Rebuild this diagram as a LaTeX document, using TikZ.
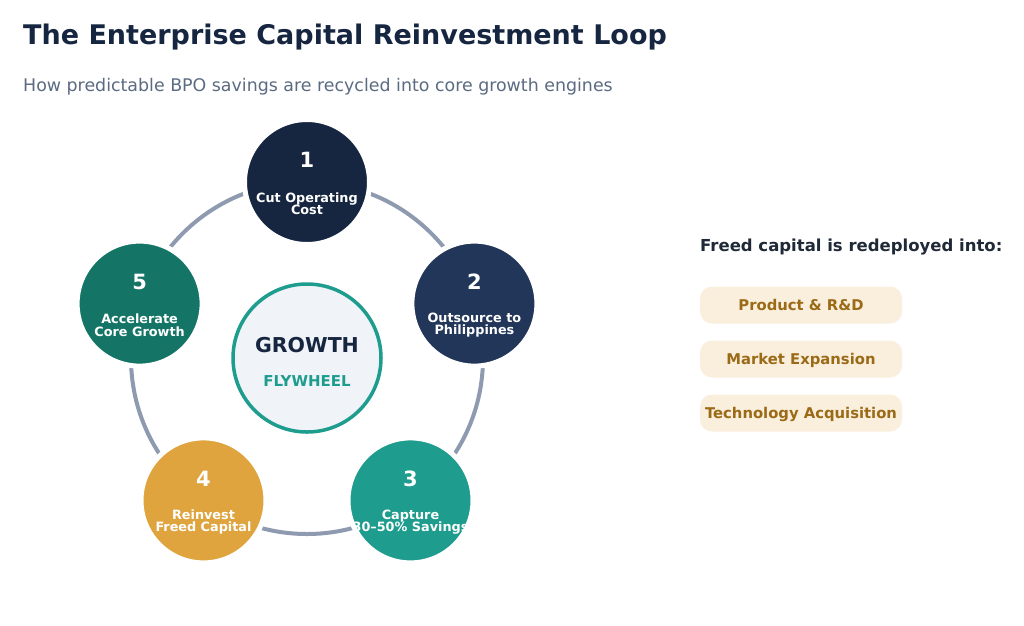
\documentclass[tikz,border=0pt]{standalone}
\usepackage{fontspec}
\setmainfont{DejaVu Sans}
\usepackage{xcolor}
\usepackage{tikz}
\usetikzlibrary{positioning}
\definecolor{navyA}{HTML}{172640}
\definecolor{navyB}{HTML}{22365A}
\definecolor{tealA}{HTML}{1E9C8E}
\definecolor{goldA}{HTML}{E0A43F}
\definecolor{greenA}{HTML}{147566}
\definecolor{ringc}{HTML}{8E9AAF}
\definecolor{hubfill}{HTML}{F0F4F8}
\definecolor{subgray}{HTML}{5B6B82}
\definecolor{headc}{HTML}{1F2937}
\definecolor{pillfill}{HTML}{FAEEDD}
\definecolor{pilltext}{HTML}{9A6A16}
\tikzstyle{stp} = [circle, minimum size=125pt, inner sep=0pt, draw=white, line width=5pt]
\tikzstyle{hub} = [circle, minimum size=148pt, inner sep=0pt, draw=tealA, line width=3.5pt, fill=hubfill]
\tikzstyle{num} = [text=white, font=\fontsize{21}{21}\selectfont\bfseries, text height=15.3pt, text depth=0pt, inner sep=0pt]
\tikzstyle{lbl} = [text=white, font=\fontsize{12.8}{12.5}\selectfont\bfseries, align=center, inner sep=0pt]
\tikzstyle{pill} = [rectangle, rounded corners=12pt, fill=pillfill, minimum width=202pt, minimum height=37pt, text=pilltext, font=\fontsize{14.8}{15}\selectfont\bfseries, text height=10.8pt, text depth=0pt, inner sep=0pt]
\tikzstyle{ring} = [draw=ringc, line width=4pt]

\begin{document}
\begin{tikzpicture}[x=1pt, y=-1pt, on grid]
\useasboundingbox[fill=white] (0,0) rectangle (1024,625);
\node[anchor=base west, text=navyA, font=\fontsize{27}{27}\selectfont\bfseries, inner sep=0pt] (T) at (23,44) {The Enterprise Capital Reinvestment Loop};
\node[anchor=base west, text=subgray, font=\fontsize{17.4}{18}\selectfont, inner sep=0pt] (S) at (23,91) {How predictable BPO savings are recycled into core growth engines};

\node(R)[hub] at (307,358) {};
\node[text=navyA, font=\fontsize{20.5}{21}\selectfont\bfseries, text height=15pt, text depth=0pt, inner sep=0pt] (G) at ([yshift=13pt]R.center) {GROWTH};
\node[text=tealA, font=\fontsize{15}{15}\selectfont\bfseries, text height=11pt, text depth=0pt, inner sep=0pt] (W) at ([yshift=-23pt]R.center) {FLYWHEEL};
\draw[ring] (R) circle[radius=176pt];

\node(A)[stp, fill=navyA, above=176pt of R] {};
\node(B)[stp, fill=navyB, above right=54.4pt and 167.4pt of R] {};
\node(C)[stp, fill=tealA, below right=142.4pt and 103.5pt of R] {};
\node(D)[stp, fill=goldA, below left=142.4pt and 103.5pt of R] {};
\node(E)[stp, fill=greenA, above left=54.4pt and 167.4pt of R] {};

\node[num] (A1) at ([yshift=22pt]A.center) {1};
\node[lbl] (A2) at ([yshift=-21.5pt]A.center) {Cut Operating\\Cost};
\node[num] (B1) at ([yshift=22pt]B.center) {2};
\node[lbl] (B2) at ([yshift=-21.5pt]B.center) {Outsource to\\Philippines};
\node[num] (C1) at ([yshift=22pt]C.center) {3};
\node[lbl] (C2) at ([yshift=-21.5pt]C.center) {Capture\\30–50\% Savings};
\node[num] (D1) at ([yshift=22pt]D.center) {4};
\node[lbl] (D2) at ([yshift=-21.5pt]D.center) {Reinvest\\Freed Capital};
\node[num] (E1) at ([yshift=22pt]E.center) {5};
\node[lbl] (E2) at ([yshift=-21.5pt]E.center) {Accelerate\\Core Growth};

\node[anchor=base west, text=headc, font=\fontsize{16.5}{17}\selectfont\bfseries, inner sep=0pt] (H) at (700,251) {Freed capital is redeployed into:};
\node(P1)[pill] at (801,305) {Product \& R\&D};
\node(P2)[pill, below=54pt of P1] {Market Expansion};
\node(P3)[pill, below=54pt of P2] {Technology Acquisition};
\end{tikzpicture}
\end{document}
